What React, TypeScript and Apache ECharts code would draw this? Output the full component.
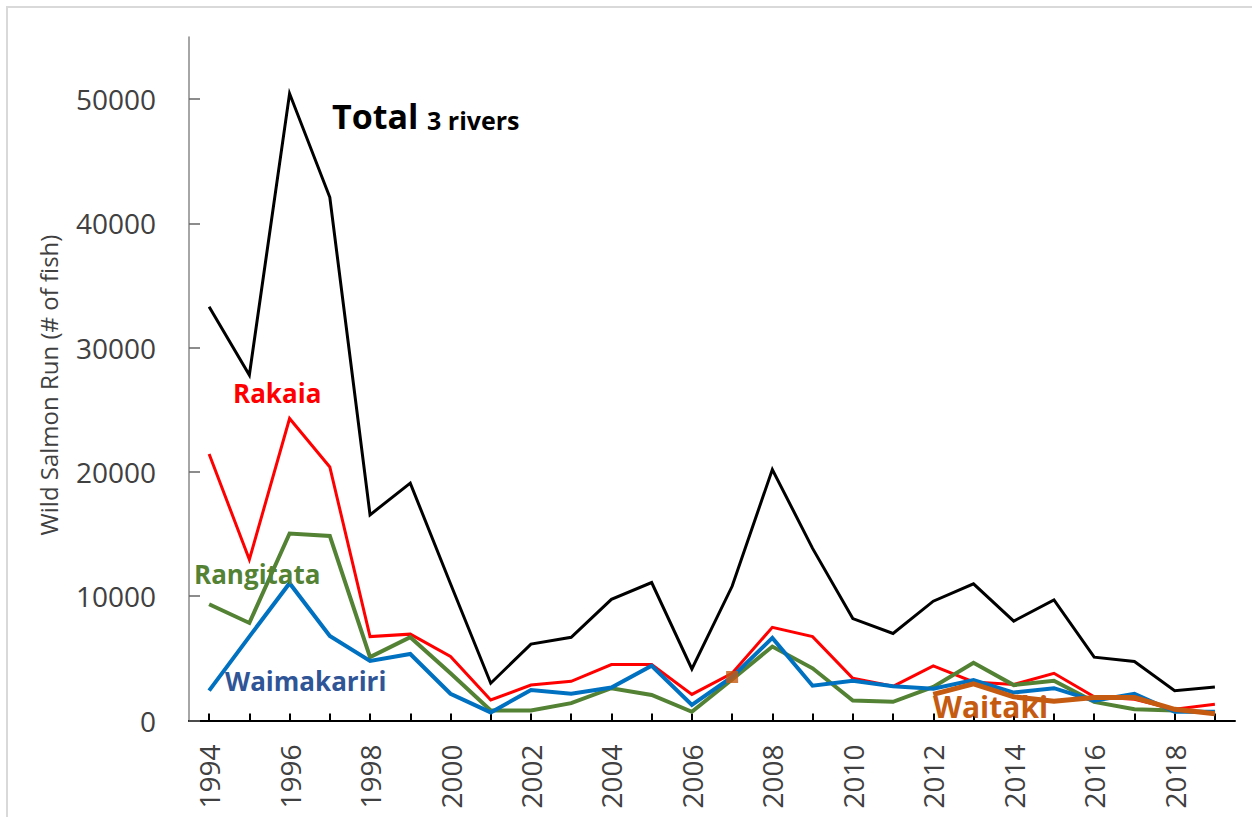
import React, { useEffect, useRef } from "react";
import * as echarts from "echarts";

const years = [
  "1994","1995","1996","1997","1998","1999","2000","2001","2002","2003","2004","2005","2006",
  "2007","2008","2009","2010","2011","2012","2013","2014","2015","2016","2017","2018","2019",
];

const total = [33300, 27800, 50450, 42100, 16550, 19100, 11000, 3000, 6150, 6700, 9750, 11100, 4150,
  10800, 20200, 13850, 8200, 7000, 9600, 11000, 8000, 9700, 5100, 4750, 2400, 2700];

const rakaia = [21450, 12950, 24300, 20400, 6750, 6950, 5150, 1650, 2850, 3150, 4500, 4500, 2100,
  3800, 7500, 6750, 3400, 2750, 4400, 3100, 2900, 3800, 1900, 1700, 900, 1300];

const rangitata = [9350, 7850, 15050, 14850, 5100, 6700, 3800, 800, 800, 1400, 2600, 2050, 700,
  3300, 5950, 4200, 1600, 1500, 2700, 4650, 2850, 3200, 1500, 900, 800, 650];

const waimakariri = [2400, 6750, 11050, 6800, 4800, 5350, 2150, 650, 2450, 2150, 2650, 4400, 1250,
  3500, 6650, 2800, 3200, 2750, 2550, 3250, 2250, 2600, 1600, 2150, 700, 700];

const waitaki: (number | null)[] = [null, null, null, null, null, null, null, null, null, null, null, null, null,
  3500, null, null, null, null, 2100, 2950, 1900, 1550, 1850, 1850, 900, 550];

const yTicks = [0, 10000, 20000, 30000, 40000, 50000];

const FONT = "'Open Sans', 'Noto Sans', sans-serif";

export default function App() {
  const ref = useRef<HTMLDivElement>(null);

  useEffect(() => {
    document.body.style.margin = "0";
    if (!ref.current) return;
    const chart = echarts.init(ref.current, undefined, { renderer: "svg" });

    // isolated Waitaki values (no neighbour on either side) are drawn as square markers
    const waitakiIsolated = waitaki.map((v, i) => {
      const prev = i > 0 ? waitaki[i - 1] : null;
      const next = i < waitaki.length - 1 ? waitaki[i + 1] : null;
      return v !== null && prev === null && next === null ? v : null;
    });

    const lineSeries = (name: string, data: any[], color: string, width: number, z: number) => ({
      name,
      type: "line",
      data,
      symbol: "none",
      showSymbol: false,
      connectNulls: false,
      lineStyle: { color, width, join: "miter" },
      itemStyle: { color },
      z,
      silent: true,
    });

    chart.setOption({
      animation: false,
      backgroundColor: "#ffffff",
      grid: { left: 189, right: 17, top: 37, bottom: 96.5, containLabel: false, outerBoundsMode: "none" },
      xAxis: {
        type: "category",
        data: years,
        boundaryGap: true,
        axisLine: { show: true, lineStyle: { color: "#000000", width: 2 } },
        axisTick: { show: true, inside: true, length: 7, alignWithLabel: true, interval: 0, lineStyle: { color: "#000000", width: 2 } },
        axisLabel: {
          interval: 1,
          rotate: 90,
          margin: 24,
          color: "#404040",
          fontSize: 28,
          fontFamily: FONT,
        },
        splitLine: { show: false },
      },
      yAxis: {
        type: "value",
        min: 0,
        max: 55000,
        interval: 10000,
        axisLine: { show: true, lineStyle: { color: "#888888", width: 1.5 } },
        axisTick: { show: true, inside: true, length: 11, customValues: yTicks, lineStyle: { color: "#666666", width: 1.5 } },
        axisLabel: {
          customValues: yTicks,
          formatter: (v: number) => String(v),
          margin: 33,
          color: "#404040",
          fontSize: 28,
          fontFamily: FONT,
        },
        splitLine: { show: false },
      },
      series: [
        lineSeries("Total 3 rivers", total, "#000000", 3, 2),
        lineSeries("Rakaia", rakaia, "#FF0000", 3, 3),
        lineSeries("Rangitata", rangitata, "#548235", 4, 4),
        lineSeries("Waimakariri", waimakariri, "#0070C0", 4, 5),
        lineSeries("Waitaki", waitaki, "#C55A11", 5, 6),
        {
          name: "Waitaki point",
          type: "scatter",
          data: waitakiIsolated,
          symbol: "rect",
          symbolSize: 12,
          itemStyle: { color: "#C55A11" },
          z: 7,
          silent: true,
        },
      ],
      graphic: [
        {
          type: "rect",
          shape: { x: 7, y: 7, width: 1300, height: 900 },
          style: { fill: "none", stroke: "#d9d9d9", lineWidth: 2 },
          silent: true,
          z: 0,
        },
        {
          type: "text",
          x: 48,
          y: 385,
          rotation: Math.PI / 2,
          style: {
            text: "Wild Salmon Run (# of fish)",
            fill: "#404040",
            font: `24px ${FONT}`,
            align: "center",
            verticalAlign: "middle",
          },
          z: 10,
        },
        {
          type: "text",
          x: 332,
          y: 116,
          style: { text: "Total", fill: "#000000", font: `bold 34px ${FONT}`, align: "left", verticalAlign: "middle" },
          z: 10,
        },
        {
          type: "text",
          x: 427,
          y: 120,
          style: { text: "3 rivers", fill: "#000000", font: `bold 25px ${FONT}`, align: "left", verticalAlign: "middle" },
          z: 10,
        },
        {
          type: "text",
          x: 233,
          y: 393,
          style: { text: "Rakaia", fill: "#FF0000", font: `bold 26px ${FONT}`, align: "left", verticalAlign: "middle" },
          z: 10,
        },
        {
          type: "text",
          x: 194,
          y: 574,
          style: { text: "Rangitata", fill: "#548235", font: `bold 26px ${FONT}`, align: "left", verticalAlign: "middle" },
          z: 10,
        },
        {
          type: "text",
          x: 225,
          y: 681,
          style: { text: "Waimakariri", fill: "#2F5597", font: `bold 26px ${FONT}`, align: "left", verticalAlign: "middle" },
          z: 10,
        },
        {
          type: "text",
          x: 933,
          y: 706,
          style: { text: "Waitaki", fill: "#C55A11", font: `bold 30px ${FONT}`, align: "left", verticalAlign: "middle" },
          z: 10,
        },
      ],
    });

    return () => {
      chart.dispose();
    };
  }, []);

  return <div ref={ref} style={{ width: 1252, height: 817 }} />;
}
